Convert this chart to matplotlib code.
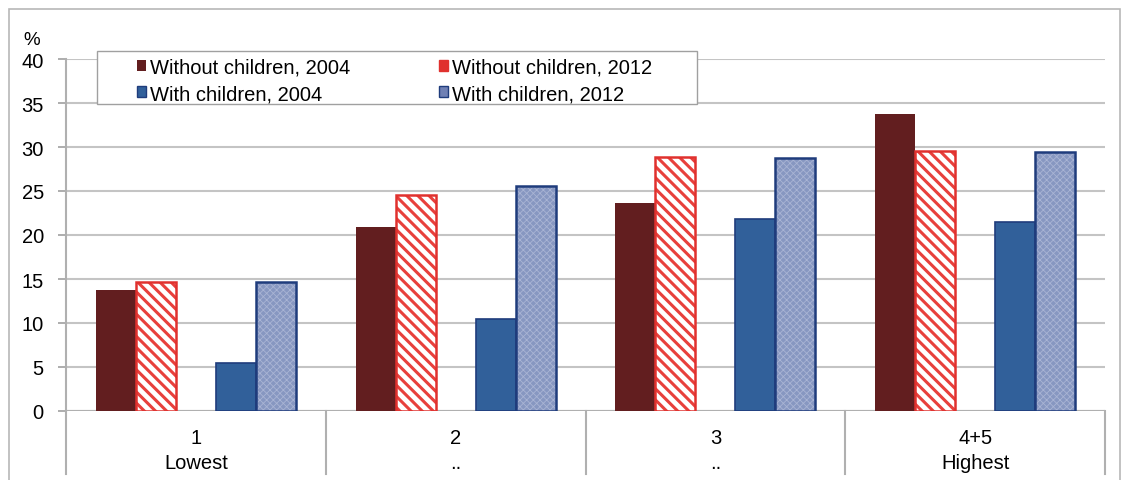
import numpy as np
import matplotlib.pyplot as plt
from matplotlib.patches import Rectangle
from matplotlib.transforms import blended_transform_factory

plt.rcParams["font.family"] = ["Liberation Sans", "DejaVu Sans"]

quintiles = ["1", "2", "3", "4+5"]
quintile_names = ["Lowest", "..", "..", "Highest"]

without_2004 = [13.7, 20.9, 23.6, 33.7]
without_2012 = [14.7, 24.6, 28.9, 29.6]
with_2004 = [5.4, 10.4, 21.8, 21.5]
with_2012 = [14.7, 25.6, 28.7, 29.4]

FS = 14.5

fig = plt.figure(figsize=(11.23, 4.81), dpi=100)
ax = fig.add_axes([66 / 1123, 69 / 481, 1039 / 1123, 352 / 481])

x = np.arange(len(quintiles))
w = 0.154

# solid bars
ax.bar(x - 2 * w, without_2004, w, color="#621E1F", zorder=3)
ax.bar(x + w, with_2004, w, color="#31609A",
       edgecolor="#1F3C7C", linewidth=1.2, zorder=3)

# hatched bars: fill + hatch first, outline on top
with plt.rc_context({"hatch.linewidth": 2.2}):
    ax.bar(x - w, without_2012, w, color="white", edgecolor="#E8403C",
           hatch="\\\\\\", linewidth=0, zorder=3)
ax.bar(x - w, without_2012, w, fill=False, edgecolor="#E0312E",
       linewidth=1.8, zorder=4)
with plt.rc_context({"hatch.linewidth": 0.6}):
    ax.bar(x + 2 * w, with_2012, w, color="#8797C1", edgecolor="#A9B4D4",
           hatch="xxxxx", linewidth=0, zorder=3)
ax.bar(x + 2 * w, with_2012, w, fill=False, edgecolor="#1F3C7C",
       linewidth=1.8, zorder=4)

h1 = Rectangle((0, 0), 1, 1, facecolor="#621E1F")
h2 = Rectangle((0, 0), 1, 1, facecolor="#E0312E", edgecolor="#E0312E")
h3 = Rectangle((0, 0), 1, 1, facecolor="#31609A", edgecolor="#1F3C7C")
h4 = Rectangle((0, 0), 1, 1, facecolor="#6F80B4", edgecolor="#1F3C7C")

leg = ax.legend(
    [h1, h3, h2, h4],
    ["Without children, 2004", "With children, 2004",
     "Without children, 2012", "With children, 2012"],
    ncol=2,
    loc="upper left",
    bbox_to_anchor=(64 / 1039, 1.023),
    borderaxespad=0,
    fontsize=FS,
    frameon=False,
    handlelength=0.45,
    handleheight=0.45,
    handletextpad=0.2,
    columnspacing=4.4,
    labelspacing=0.35,
    borderpad=0.35,
)
leg.set_zorder(6)

# legend box drawn separately, wider than the entries
ax.add_patch(Rectangle((31 / 1039, 0.872), 600 / 1039, 0.1507,
                       transform=ax.transAxes, facecolor="white",
                       edgecolor="#A0A0A0", linewidth=1.0, zorder=5,
                       clip_on=False))

ax.set_xlim(-0.5, 3.5)
ax.set_ylim(0, 40)
ax.set_yticks(range(0, 45, 5))
ax.tick_params(axis="y", labelsize=FS, length=6, color="#A0A0A0",
               width=1.2, pad=10)
ax.set_xticks([])
ax.grid(axis="y", color="#C4C4C4", linewidth=1.5, zorder=0)
ax.set_axisbelow(True)

for s in ["top", "right", "bottom"]:
    ax.spines[s].set_visible(False)
ax.spines["left"].set_color("#B0B0B0")
ax.spines["left"].set_linewidth(1.5)
ax.axhline(0, color="#B0B0B0", linewidth=1.5, zorder=2)

ax.text(-0.041, 1.03, "%", transform=ax.transAxes, fontsize=FS - 1,
        ha="left", va="bottom")

# category axis: two label rows with separators
tr = blended_transform_factory(ax.transData, ax.transAxes)
for i in range(len(quintiles)):
    ax.text(i, -0.074, quintiles[i], transform=tr, ha="center",
            va="center", fontsize=FS)
    ax.text(i, -0.147, quintile_names[i], transform=tr, ha="center",
            va="center", fontsize=FS)
for b in np.arange(-0.5, 4.0, 1.0):
    ax.plot([b, b], [0, -0.18], transform=tr, color="#B0B0B0",
            linewidth=1.5, clip_on=False)

# outer chart frame
fig.patches.append(Rectangle((9 / 1123, -0.01), 1111 / 1123, 0.989,
                             transform=fig.transFigure, fill=False,
                             edgecolor="#B8B8B8", linewidth=1.2))

fig.savefig("out.png", dpi=100)
